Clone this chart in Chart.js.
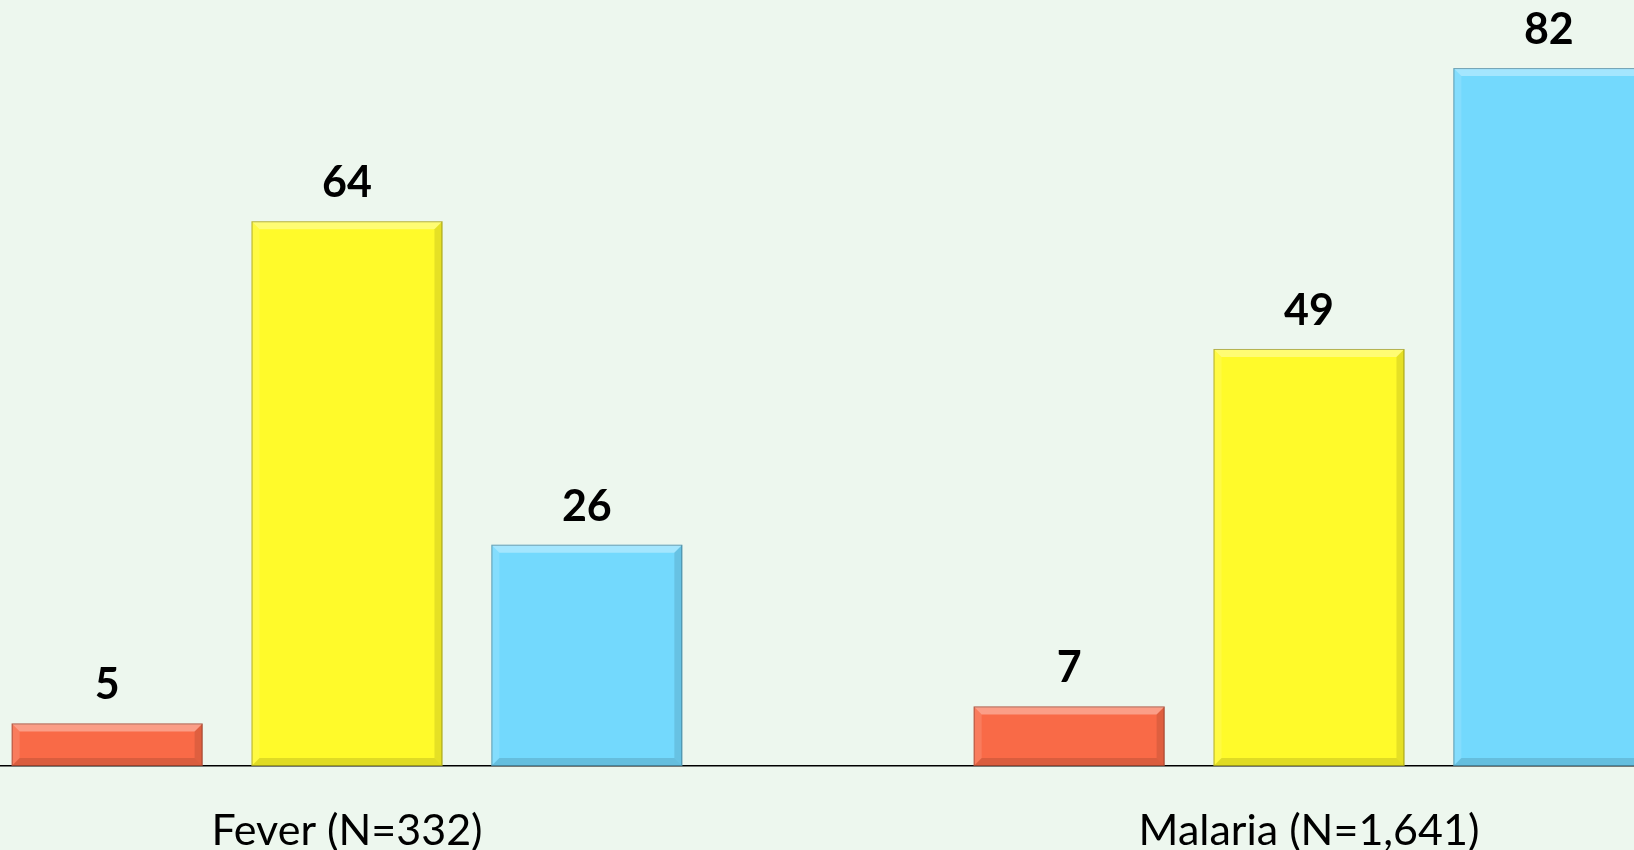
<!DOCTYPE html>
<html>
<head>
<meta charset="utf-8">
<script src="https://cdn.jsdelivr.net/npm/chart.js@4.4.1/dist/chart.umd.min.js"></script>
<style>
    html, body { margin: 0; padding: 0; overflow: hidden; background: #edf7ee; }
    #wrap { position: absolute; left: -134px; top: 0; width: 1924px; height: 850px; }
</style>
</head>
<body>
<div id="wrap"><canvas id="chart" width="1924" height="850"></canvas></div>
<script>
    const categories = ['Fever (N=332)', 'Malaria (N=1,641)'];
    const redValues = [5, 7];
    const yellowValues = [64, 49];
    const blueValues = [26, 82];
    const yMax = 90;

    const COLORS = ['#f96a47', '#fffa2a', '#73d9fd'];

    // bevelled look of the original bars
    const bevelPlugin = {
        id: 'bevel',
        afterDatasetsDraw(chart) {
            const ctx = chart.ctx;
            chart.data.datasets.forEach((ds, i) => {
                chart.getDatasetMeta(i).data.forEach((bar) => {
                    const { x, y, base, width } = bar.getProps(['x', 'y', 'base', 'width'], true);
                    const l = x - width / 2, r = x + width / 2, t = y, b = base;
                    const bv = Math.min(8, (b - t) / 2);
                    const poly = (pts, fill) => {
                        ctx.beginPath();
                        ctx.moveTo(pts[0][0], pts[0][1]);
                        pts.slice(1).forEach((p) => ctx.lineTo(p[0], p[1]));
                        ctx.closePath();
                        ctx.fillStyle = fill;
                        ctx.fill();
                    };
                    ctx.save();
                    poly([[l, t], [r, t], [r - bv, t + bv], [l + bv, t + bv]], 'rgba(255,255,255,0.35)');
                    poly([[l, t], [l + bv, t + bv], [l + bv, b - bv], [l, b]], 'rgba(255,255,255,0.12)');
                    poly([[r, t], [r, b], [r - bv, b - bv], [r - bv, t + bv]], 'rgba(0,0,0,0.10)');
                    poly([[l, b], [r, b], [r - bv, b - bv], [l + bv, b - bv]], 'rgba(0,0,0,0.12)');
                    ctx.strokeStyle = 'rgba(0,0,0,0.3)';
                    ctx.lineWidth = 1;
                    ctx.strokeRect(l + 0.5, t + 0.5, width - 1, b - t - 1);
                    ctx.restore();
                });
            });
        }
    };

    const valueLabels = {
        id: 'valueLabels',
        afterDatasetsDraw(chart) {
            const ctx = chart.ctx;
            ctx.save();
            ctx.font = 'bold 43px Lato, sans-serif';
            ctx.fillStyle = '#000';
            ctx.textAlign = 'center';
            ctx.textBaseline = 'alphabetic';
            chart.data.datasets.forEach((ds, i) => {
                chart.getDatasetMeta(i).data.forEach((bar, j) => {
                    ctx.fillText(String(ds.data[j]), bar.x, bar.y - 24);
                });
            });
            ctx.restore();
        }
    };

    const bgPlugin = {
        id: 'bg',
        beforeDraw(chart) {
            const ctx = chart.ctx;
            ctx.save();
            ctx.fillStyle = '#edf7ee';
            ctx.fillRect(0, 0, chart.width, chart.height);
            ctx.restore();
        }
    };

    const makeSet = (label, data, color) => ({
        label,
        data,
        backgroundColor: color,
        borderWidth: 0,
        barPercentage: 0.796,
        categoryPercentage: 0.748
    });

    new Chart(document.getElementById('chart'), {
        type: 'bar',
        data: {
            labels: categories,
            datasets: [
                makeSet('Series 1', redValues, COLORS[0]),
                makeSet('Series 2', yellowValues, COLORS[1]),
                makeSet('Series 3', blueValues, COLORS[2])
            ]
        },
        options: {
            responsive: false,
            animation: false,
            layout: { padding: 0 },
            plugins: {
                legend: { display: false },
                tooltip: { enabled: false }
            },
            scales: {
                x: {
                    grid: { display: false, drawTicks: false },
                    border: { display: true, color: '#000', width: 1.5 },
                    ticks: {
                        color: '#000',
                        padding: 39,
                        font: { family: 'Lato, sans-serif', size: 43 }
                    },
                    afterFit(scale) { scale.height = 84; }
                },
                y: {
                    display: false,
                    min: 0,
                    max: yMax
                }
            }
        },
        plugins: [bgPlugin, bevelPlugin, valueLabels]
    });
</script>
</body>
</html>
